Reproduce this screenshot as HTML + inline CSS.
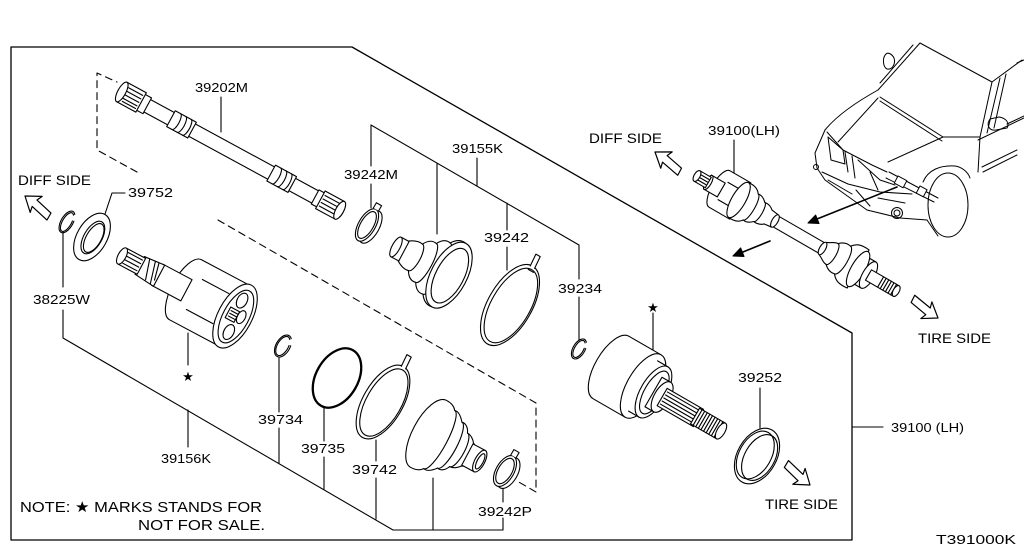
<!DOCTYPE html>
<html><head><meta charset="utf-8"><style>
html,body{margin:0;padding:0;background:#fff;}
svg{display:block;}
text{font-family:"Liberation Sans","DejaVu Sans",sans-serif;fill:#000;stroke:none;}
</style></head><body>
<svg width="1024" height="560" viewBox="0 0 1024 560" xmlns="http://www.w3.org/2000/svg">
<rect width="1024" height="560" fill="#fff"/>
<g fill="none" stroke="#000" stroke-width="1.1" stroke-linejoin="round" stroke-linecap="round">

<!-- frame -->
<path d="M11,47 L352,47 L852,333 L852,540 L11,540 Z" stroke-width="1.3"/>
<path d="M852,427 H883"/>

<!-- dashed -->
<g stroke-dasharray="7,5">
<path d="M137,172 L97,150 V73 L117,82"/>
<path d="M218,220 L536,403 V492 L517,481"/>
</g>

<!-- leaders -->
<path d="M221,97 V132"/>
<path d="M125,193 H112 L105,214"/>
<path d="M63,232 V287 M63,310 V338 L393,530 H503 V518 M503,502 V488"/>
<path d="M188,410 V447 M188,333 V365"/>
<path d="M279,358 V412 M279,428 V463"/>
<path d="M324,408 V441 M324,457 V489"/>
<path d="M376,440 V461 M376,478 V519"/>
<path d="M433,478 V530"/>
<path d="M371,125 L579,245 M371,125 V166 M371,184 V208 M437,163 V234 M477,186 V158 M507,203 V230 M507,247 V270 M579,245 V279 M579,297 V340"/>
<path d="M653,313 V355"/>
<path d="M760,388 V428"/>
<path d="M734,140 V183"/>

<!-- shaft 39202M -->
<g transform="translate(120,91) rotate(28.5)" fill="#fff">
<rect x="30" y="-7" width="194" height="14"/>
<rect x="58" y="-9" width="24" height="18"/>
<path d="M64,-9 A3,9 0 0 1 64,9 M70,-9 A3,9 0 0 1 70,9 M76,-9 A3,9 0 0 1 76,9" fill="none"/>
<rect x="172" y="-9" width="24" height="18"/>
<path d="M178,-9 A3,9 0 0 1 178,9 M184,-9 A3,9 0 0 1 184,9 M190,-9 A3,9 0 0 1 190,9" fill="none"/>
<rect x="23" y="-9" width="8" height="18"/>
<rect x="2" y="-11" width="22" height="22"/>
<path d="M6,-7H22M5,-3H22M5,1H22M6,5H22M7,8H22" fill="none"/>
<ellipse cx="2" cy="0" rx="4" ry="11"/>
<rect x="222" y="-8" width="7" height="16"/>
<rect x="228" y="-10" width="22" height="20"/>
<path d="M230,-6H248M230,-2H248M230,2H248M230,6H248" fill="none"/>
<ellipse cx="250" cy="0" rx="4" ry="10"/>
</g>

<!-- rings left -->
<g transform="translate(67,222) rotate(30)">
<path d="M5.6,-4.1 A6,12 0 1 1 3,-10.4"/>
<path d="M4.2,-3.6 A4.5,10.5 0 1 1 2.2,-9.1"/>
</g>
<g transform="translate(92,237) rotate(30)" fill="#fff">
<ellipse rx="15" ry="26"/>
<ellipse cx="1" rx="9" ry="18"/>
<ellipse cx="2" rx="7.5" ry="16" fill="none"/>
</g>

<!-- inner joint 39156K -->
<g transform="translate(122,256) rotate(28)" fill="#fff">
<path d="M72,-34 H128 V34 H72 A14,34 0 0 1 72,-34Z"/>
<path d="M82,-17 H112 M82,17 H112" fill="none"/>
<ellipse cx="128" rx="17" ry="35"/>
<ellipse cx="129" rx="13" ry="29"/>
<ellipse cx="127" cy="-17" rx="5" ry="8"/>
<ellipse cx="130" cy="17" rx="5" ry="8"/>
<ellipse cx="134" cy="-2" rx="4" ry="7"/>
<rect x="120" y="-6" width="10" height="12"/>
<path d="M122,-3H130M122,0H130M122,3H130" fill="none"/>
<rect x="40" y="-12" width="33" height="24"/>
<path d="M20,-10 L42,-12 V12 L20,10Z"/>
<path d="M26,-10 L32,10 M32,-11 L38,11 M36,-11 L40,6" fill="none"/>
<rect x="0" y="-9" width="22" height="18"/>
<path d="M4,-6H20M4,-2H20M4,2H20M4,6H20" fill="none"/>
<ellipse cx="0" rx="4" ry="9"/>
</g>

<!-- 39242M clamp -->
<g transform="translate(367,225) rotate(30)" fill="#fff">
<ellipse cx="4" rx="8.5" ry="18"/>
<ellipse cx="0" rx="8.5" ry="18"/>
<ellipse cx="0" rx="6.5" ry="15" fill="none"/>
<path d="M-3,-18 L-3,-24 L3,-24 L3,-18"/>
</g>

<!-- upper boot 39155K -->
<g transform="translate(396,247) rotate(28)" fill="#fff">
<path d="M8,-11 C14,-15 18,-16 22,-15 C26,-22 30,-23 34,-22 C38,-29 42,-30 46,-29 C50,-35 55,-37 60,-36 L60,36 C55,37 50,35 46,29 C42,30 38,29 34,22 C30,23 26,22 22,15 C18,16 14,15 8,11Z"/>
<path d="M22,-15 A5,15 0 0 1 22,15 M34,-22 A6,22 0 0 1 34,22 M46,-29 A7,29 0 0 1 46,29" fill="none"/>
<rect x="0" y="-11" width="9" height="22"/>
<ellipse cx="0" rx="4" ry="11"/>
<ellipse cx="60" rx="18" ry="36"/>
<ellipse cx="61" rx="14" ry="30"/>
</g>

<!-- 39242 band -->
<g transform="translate(510,305) rotate(30)">
<ellipse rx="22" ry="45"/>
<ellipse cx="1" rx="19.5" ry="41.5"/>
<path d="M-2,-44 L-3,-57 L2,-57 L3,-44" fill="#fff"/>
<path d="M-2,-40 L4,-40" />
</g>

<!-- 39234 C ring -->
<g transform="translate(579,349) rotate(30)">
<path d="M5.6,-3.8 A6,11 0 1 1 3,-9.5"/>
<path d="M4.2,-3.3 A4.5,9.5 0 1 1 2.2,-8.3"/>
</g>

<!-- 39734 C ring -->
<g transform="translate(283,346) rotate(30)">
<path d="M6.6,-4.1 A7,12 0 1 1 3.5,-10.4"/>
<path d="M5,-3.5 A5.5,10.5 0 1 1 2.6,-9"/>
</g>

<!-- 39735 O ring -->
<g transform="translate(337,378) rotate(30)">
<ellipse rx="21" ry="32" stroke-width="2.3"/>
</g>

<!-- 39742 band -->
<g transform="translate(383,402) rotate(30)">
<ellipse rx="20" ry="41"/>
<ellipse cx="1" rx="17.5" ry="37.5"/>
<path d="M-2,-40 L-3,-53 L2,-53 L3,-40" fill="#fff"/>
</g>

<!-- lower boot -->
<g transform="translate(425,432) rotate(28)" fill="#fff">
<path d="M4,-38 C10,-38 14,-36 16,-33 C20,-34 24,-31 28,-26 C32,-27 36,-24 38,-19 C42,-19 46,-16 48,-13 L50,-12 L50,12 L48,13 C46,16 42,19 38,19 C36,24 32,27 28,26 C24,31 20,34 16,33 C14,36 10,38 4,38 A16,38 0 0 1 4,-38Z"/>
<path d="M16,-33 A8,33 0 0 1 16,33 M28,-26 A7,26 0 0 1 28,26 M38,-19 A6,19 0 0 1 38,19" fill="none"/>
<rect x="48" y="-12" width="14" height="24"/>
<ellipse cx="62" rx="5" ry="12"/>
<ellipse cx="62.5" rx="3" ry="8.5"/>
</g>

<!-- 39242P clamp -->
<g transform="translate(505,471) rotate(30)" fill="#fff">
<ellipse cx="4" rx="9" ry="17"/>
<ellipse cx="0" rx="9" ry="17"/>
<ellipse cx="0" rx="7" ry="14" fill="none"/>
<path d="M-3,-17 L-3,-23 L3,-23 L3,-17"/>
</g>

<!-- outer joint 39100 -->
<g transform="translate(650,390) rotate(30)" fill="#fff">
<path d="M-45,-36 H-8 V36 H-45 A16,36 0 0 1 -45,-36Z"/>
<ellipse cx="-8" rx="16" ry="36"/>
<path d="M-8,-29 H4 V29 H-8"/>
<ellipse cx="4" rx="13" ry="29"/>
<ellipse cx="5" rx="10" ry="24" fill="none"/>
<rect x="4" y="-17" width="10" height="34"/>
<ellipse cx="14" rx="8" ry="17"/>
<rect x="14" y="-10" width="42" height="20"/>
<path d="M16,-7H54M16,-3.5H54M16,0H54M16,3.5H54M16,7H54" fill="none"/>
<rect x="52" y="-9" width="30" height="18"/>
<path d="M55,-9V9M58,-9V9M61,-9V9M64,-9V9M67,-9V9M70,-9V9M73,-9V9M76,-9V9M79,-9V9" fill="none"/>
<ellipse cx="82" rx="4" ry="9"/>
</g>

<!-- 39252 seal -->
<g transform="translate(757,456) rotate(30)" fill="#fff">
<ellipse rx="19.5" ry="30"/>
<ellipse cx="3" rx="15" ry="25"/>
<ellipse cx="-2" rx="16" ry="26" fill="none"/>
</g>

<!-- upper right assembly -->
<g transform="translate(697,176) rotate(30)" fill="#fff">
<rect x="88" y="-6" width="62" height="12"/>
<path d="M26,-21 H50 V21 H26 A8,21 0 0 1 26,-21Z"/>
<path d="M30,-10 H46 M30,10 H46" fill="none"/>
<path d="M48,-20 C56,-21 60,-18 62,-15 C66,-16 70,-13 72,-11 C76,-12 80,-10 82,-8 L90,-7 L90,7 L82,8 C80,10 76,12 72,11 C70,13 66,16 62,15 C60,18 56,21 48,20Z"/>
<ellipse cx="48" rx="7" ry="20"/>
<path d="M62,-15 A4,15 0 0 1 62,15 M72,-11 A3,11 0 0 1 72,11" fill="none"/>
<ellipse cx="90" rx="3" ry="7"/>
<rect x="12" y="-8" width="16" height="16"/>
<ellipse cx="13" rx="3" ry="8"/>
<rect x="0" y="-6" width="13" height="12"/>
<path d="M2,-3H12M2,0H12M2,3H12" fill="none"/>
<ellipse cx="0" rx="3" ry="6"/>
<path d="M145,-7 C150,-9 152,-12 156,-12 C160,-16 164,-17 168,-16 C172,-21 176,-23 186,-22 L186,22 C176,23 172,21 168,16 C164,17 160,16 156,12 C152,12 150,9 145,7Z"/>
<path d="M156,-12 A4,12 0 0 1 156,12 M168,-16 A5,16 0 0 1 168,16" fill="none"/>
<ellipse cx="145" rx="3" ry="7"/>
<rect x="186" y="-15" width="12" height="30"/>
<ellipse cx="186" rx="7" ry="20"/>
<ellipse cx="198" rx="6" ry="15"/>
<rect x="198" y="-6" width="32" height="12"/>
<path d="M212,-6V6M215,-6V6M218,-6V6M221,-6V6M224,-6V6M227,-6V6" fill="none"/>
<ellipse cx="230" rx="3" ry="6"/>
</g>

<!-- car -->
<g stroke-width="1">
<path d="M886,54 C882,58 883,67 887,69 C892,70 896,64 894,58 C892,54 888,52 886,54Z"/>
<path d="M878,90 L920,43 M880,83 L913,45"/>
<path d="M920,43 L992,82 L1022,60"/>
<path d="M992,82 L980,137 L978,172 M1000,78 L987,133 M1006,74 L994,128"/>
<path d="M880,97 L943,137 L980,137 M880,101 L942,141"/>
<path d="M878,90 C860,100 838,114 825,130"/>
<path d="M838,142 L878,98"/>
<path d="M827,132 L843,150 L872,165 L887,172"/>
<path d="M888,162 L943,137"/>
<path d="M825,130 L815,153 L817,168 L825,180 L867,210 L900,218 L927,220"/>
<path d="M828,137 L843,150 L845,164 L831,160 Z"/>
<path d="M845,152 L848,172 M852,156 L855,178 M858,160 L880,180 L895,185 M870,172 L878,190"/>
<circle cx="816" cy="167" r="2.5"/>
<path d="M822,172 L848,184 L880,192 L912,194 M828,180 L852,194 M856,190 L870,206 M878,198 L905,203"/>
<circle cx="897" cy="213" r="3"/>
<circle cx="897" cy="213" r="5.5"/>
<ellipse cx="948" cy="205" rx="20" ry="32"/>
<path d="M923,182 C928,170 940,165 955,166 C962,167 968,172 970,178"/>
<path d="M927,220 L938,236"/>
<path d="M982,167 L1017,150 M983,172 L1017,155 M978,140 L1024,118 M1017,63 L1024,60"/>
<path d="M990,119 C986,125 989,131 996,130 L1007,128 C1010,123 1006,118 999,117Z"/>
<path d="M1007,124 L1024,116"/>
<path d="M889,172 L938,198 M886,178 L934,202" />
<rect x="0" y="0" width="10" height="8" transform="translate(898,176) rotate(28)" fill="#fff"/>
<rect x="0" y="0" width="8" height="8" transform="translate(920,186) rotate(28)" fill="#fff"/>
</g>

<!-- solid arrows -->
<path d="M897,187 L812,221" stroke-width="1.6"/>
<polygon points="808,223 819,223.5 815.6,215.1" fill="#000"/>
<path d="M770,241 L738,254" stroke-width="1.6"/>
<polygon points="733,256 744,256.4 740.6,248" fill="#000"/>

<!-- hollow arrows -->
<g fill="#fff" stroke-width="1.2">
<polygon transform="translate(25,196) rotate(216.9)" points="0,0 -14,-10 -12,-4 -32,-6 -31,2 -12,4 -14,10"/>
<polygon transform="translate(655,152) rotate(215)" points="0,0 -14,-10 -12,-4 -32,-6 -31,2 -12,4 -14,10"/>
<polygon transform="translate(938,318) rotate(33.7)" points="0,0 -14,-10 -12,-4 -32,-6 -31,2 -12,4 -14,10"/>
<polygon transform="translate(810,485) rotate(38)" points="0,0 -14,-10 -12,-4 -32,-6 -31,2 -12,4 -14,10"/>
</g>
</g>

<!-- labels -->
<g font-size="13">
<text x="195" y="92" textLength="53" lengthAdjust="spacingAndGlyphs">39202M</text>
<text x="128" y="197" textLength="45" lengthAdjust="spacingAndGlyphs">39752</text>
<text x="344" y="179" textLength="54" lengthAdjust="spacingAndGlyphs">39242M</text>
<text x="452" y="153" textLength="51" lengthAdjust="spacingAndGlyphs">39155K</text>
<text x="484" y="242" textLength="45" lengthAdjust="spacingAndGlyphs">39242</text>
<text x="558" y="293" textLength="44" lengthAdjust="spacingAndGlyphs">39234</text>
<text x="708" y="135" textLength="72" lengthAdjust="spacingAndGlyphs">39100(LH)</text>
<text x="33" y="304" textLength="57" lengthAdjust="spacingAndGlyphs">38225W</text>
<text x="161" y="463" textLength="50" lengthAdjust="spacingAndGlyphs">39156K</text>
<text x="258" y="424" textLength="45" lengthAdjust="spacingAndGlyphs">39734</text>
<text x="301" y="453" textLength="44" lengthAdjust="spacingAndGlyphs">39735</text>
<text x="352" y="474" textLength="45" lengthAdjust="spacingAndGlyphs">39742</text>
<text x="478" y="516" textLength="54" lengthAdjust="spacingAndGlyphs">39242P</text>
<text x="738" y="382" textLength="44" lengthAdjust="spacingAndGlyphs">39252</text>
<text x="891" y="432" textLength="73" lengthAdjust="spacingAndGlyphs">39100 (LH)</text>
<text x="936" y="544" textLength="80" lengthAdjust="spacingAndGlyphs">T391000K</text>
</g>
<g font-size="14">
<text x="18" y="185" textLength="73" lengthAdjust="spacingAndGlyphs">DIFF SIDE</text>
<text x="589" y="143" textLength="73" lengthAdjust="spacingAndGlyphs">DIFF SIDE</text>
<text x="918" y="343" textLength="73" lengthAdjust="spacingAndGlyphs">TIRE SIDE</text>
<text x="765" y="509" textLength="73" lengthAdjust="spacingAndGlyphs">TIRE SIDE</text>
</g>
<g font-size="15">
<text x="20" y="512" textLength="242" lengthAdjust="spacingAndGlyphs">NOTE: ★ MARKS STANDS FOR</text>
<text x="138" y="530" textLength="127" lengthAdjust="spacingAndGlyphs">NOT FOR SALE.</text>
</g>
<g font-size="13" text-anchor="middle">
<text x="188" y="381">★</text>
<text x="653" y="312">★</text>
</g>
</svg>
</body></html>
